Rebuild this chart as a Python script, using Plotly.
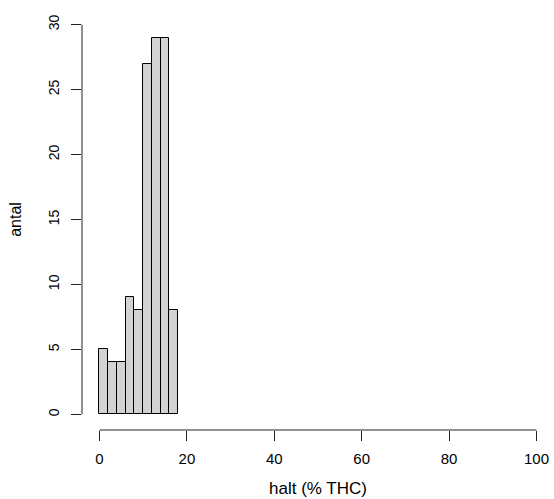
import plotly.graph_objects as go

# Histogram data (bins of width 2, starting at 0)
bin_starts = [0, 2, 4, 6, 8, 10, 12, 14, 16]
bin_width = 2
counts = [5, 4, 4, 9, 8, 27, 29, 29, 8]

x_ticks = [0, 20, 40, 60, 80, 100]
y_ticks = [0, 5, 10, 15, 20, 25, 30]

x_label = "halt (% THC)"
y_label = "antal"

centers = [s + bin_width / 2 for s in bin_starts]

fig = go.Figure()
fig.add_trace(go.Bar(
    x=centers, y=counts, width=[bin_width] * len(counts),
    marker=dict(color="#d3d3d3", line=dict(color="black", width=1)),
    hoverinfo="x+y",
))

font_family = "Liberation Sans, Arial, sans-serif"

fig.update_layout(
    width=554, height=499,
    margin=dict(l=82, r=0, t=9, b=69, autoexpand=False),
    plot_bgcolor="white", paper_bgcolor="white",
    showlegend=False,
    bargap=0,
    font=dict(family=font_family, color="black"),
    xaxis=dict(
        range=[-4, 104], tickvals=x_ticks, ticktext=[str(v) for v in x_ticks],
        showgrid=False, zeroline=False, showline=False,
        ticks="outside", ticklen=10, tickcolor="#222", tickwidth=1,
        tickfont=dict(size=15), ticklabelstandoff=5,
        title=dict(text=x_label, font=dict(size=17), standoff=16),
        automargin=False, fixedrange=True,
    ),
    yaxis=dict(
        range=[-1.2, 31.2], tickvals=y_ticks, ticktext=[str(v) for v in y_ticks],
        showgrid=False, zeroline=False, showline=False,
        ticks="outside", ticklen=10, tickcolor="#222", tickwidth=1,
        tickangle=-90, tickfont=dict(size=14), ticklabelstandoff=6,
        title=dict(text=y_label, font=dict(size=16), standoff=20),
        automargin=False, fixedrange=True,
    ),
)

# R-style axis lines spanning only the tick range
fig.add_shape(type="line", xref="x", yref="paper",
              x0=x_ticks[0], x1=x_ticks[-1], y0=0, y1=0,
              line=dict(color="#222", width=1))
fig.add_shape(type="line", xref="paper", yref="y",
              x0=0, x1=0, y0=y_ticks[0], y1=y_ticks[-1],
              line=dict(color="#222", width=1))

fig.write_html("out.html")
